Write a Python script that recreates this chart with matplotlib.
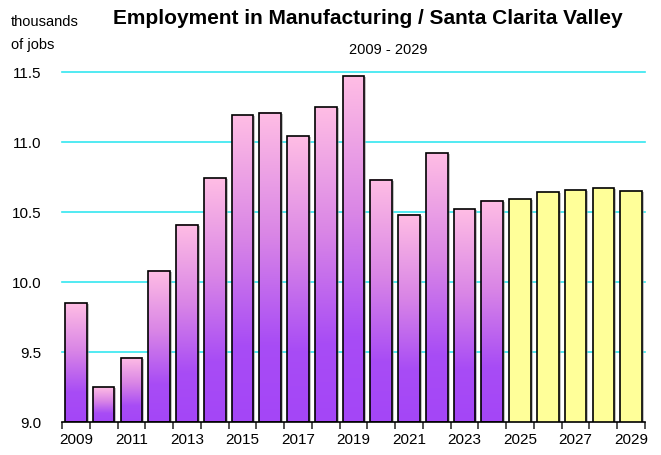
import numpy as np
import matplotlib.pyplot as plt
from matplotlib.colors import LinearSegmentedColormap
from matplotlib.patches import Rectangle
import matplotlib.transforms as mtransforms

years = list(range(2009, 2030))
jobs = [9.85, 9.25, 9.46, 10.08, 10.41, 10.74, 11.19, 11.21, 11.04, 11.25, 11.47,
        10.73, 10.48, 10.92, 10.52, 10.58, 10.59, 10.64, 10.66, 10.67, 10.65]
forecast_from = 2025
tick_labels = [str(y) if (y - 2009) % 2 == 0 else "" for y in years]

plt.rcParams['font.family'] = ['Liberation Sans Narrow', 'Liberation Sans', 'DejaVu Sans']

fig = plt.figure(figsize=(6.61, 4.56), dpi=100)
ax = fig.add_axes([62 / 661, 33 / 456, 583 / 661, 350 / 456])

ymin, ymax = 9.0, 11.5
ax.set_xlim(-0.5, len(years) - 0.5)
ax.set_ylim(ymin, ymax)

for v in [9.5, 10.0, 10.5, 11.0, 11.5]:
    ax.axhline(v, color='#33e6f0', lw=1.2, zorder=0, clip_on=False)

cmap = LinearSegmentedColormap.from_list(
    'pp', [(0.0, '#a446f7'), (0.25, '#a84cf5'), (0.6, '#d985e6'), (1.0, '#ffbde4')])
grad = np.linspace(0, 1, 256).reshape(-1, 1)

w = 0.78
shadow = mtransforms.offset_copy(ax.transData, fig=fig, x=2, y=-1, units='dots')
for i, (yr, v) in enumerate(zip(years, jobs)):
    x0 = i - w / 2
    ax.add_patch(Rectangle((x0, ymin), w, v - ymin, transform=shadow,
                           facecolor='#999999', edgecolor='none', zorder=1, alpha=0.6))
    if yr < forecast_from:
        ax.imshow(grad, extent=[x0, x0 + w, ymin, v], origin='lower',
                  aspect='auto', cmap=cmap, zorder=2)
        face = 'none'
    else:
        face = '#ffff99'
    ax.add_patch(Rectangle((x0, ymin), w, v - ymin, facecolor=face,
                           edgecolor='black', lw=1.2, zorder=3))

ax.set_xlim(-0.5, len(years) - 0.5)
ax.set_ylim(ymin, ymax)

for s in ['left', 'right', 'top']:
    ax.spines[s].set_visible(False)
ax.spines['bottom'].set_linewidth(1.2)

ax.set_xticks(np.arange(-0.5, len(years), 1.0))
ax.set_xticklabels([])
ax.tick_params(axis='x', which='major', length=5, width=1.2, color='#333333')
ax.set_xticks(np.arange(len(years)), minor=True)
ax.set_xticklabels(tick_labels, minor=True, fontsize=11)
ax.tick_params(axis='x', which='minor', length=0, pad=7)

ax.set_yticks([9.0, 9.5, 10.0, 10.5, 11.0, 11.5])
ax.set_yticklabels(['9.0', '9.5', '10.0', '10.5', '11.0', '11.5'], fontsize=11)
ax.tick_params(axis='y', length=0, pad=15)

fig.text(368 / 661, 1 - 18 / 456, 'Employment in Manufacturing / Santa Clarita Valley',
         ha='center', va='center', fontsize=15, fontweight='bold')
fig.text(388 / 661, 1 - 50 / 456, '2009 - 2029', ha='center', va='center', fontsize=10.5)
fig.text(11 / 661, 1 - 22 / 456, 'thousands', ha='left', va='center', fontsize=10.5)
fig.text(11 / 661, 1 - 45 / 456, 'of jobs', ha='left', va='center', fontsize=10.5)

fig.savefig('out.png', dpi=100)
